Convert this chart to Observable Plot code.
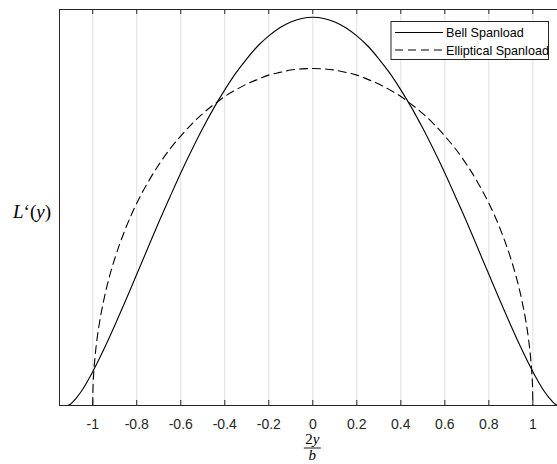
<!DOCTYPE html>
<html><head><meta charset="utf-8">
<script src="https://cdn.jsdelivr.net/npm/d3@7"></script>
<script src="https://cdn.jsdelivr.net/npm/@observablehq/plot@0.6"></script>
<style>body{margin:0;background:#fff;overflow:hidden}</style>
</head><body><div id="chart"></div>
<script>
// Bell spanload
const bellX = [-1.115,-1.1,-1.075,-1.05,-1.0,-0.95,-0.9,-0.85,-0.8,-0.75,-0.7,-0.65,-0.6,-0.55,-0.5,-0.45,-0.4,-0.35,-0.3,-0.25,-0.2,-0.15,-0.1,-0.05,0,0.05,0.1,0.15,0.2,0.25,0.3,0.35,0.4,0.45,0.5,0.55,0.6,0.65,0.7,0.75,0.8,0.85,0.9,0.95,1.0,1.05,1.075,1.1,1.115];
const bellLoad = [0,0.004,0.019,0.038,0.087,0.144,0.206,0.271,0.338,0.405,0.472,0.536,0.599,0.658,0.714,0.766,0.813,0.856,0.893,0.926,0.952,0.973,0.988,0.997,1.0,0.997,0.988,0.973,0.952,0.926,0.893,0.856,0.813,0.766,0.714,0.658,0.599,0.536,0.472,0.405,0.338,0.271,0.206,0.144,0.087,0.038,0.019,0.004,0];
// Elliptical spanload
const ellipX = [-1,-0.999,-0.995,-0.99,-0.98,-0.97,-0.95,-0.925,-0.9,-0.85,-0.8,-0.75,-0.7,-0.65,-0.6,-0.55,-0.5,-0.45,-0.4,-0.35,-0.3,-0.25,-0.2,-0.15,-0.1,-0.05,0,0.05,0.1,0.15,0.2,0.25,0.3,0.35,0.4,0.45,0.5,0.55,0.6,0.65,0.7,0.75,0.8,0.85,0.9,0.925,0.95,0.97,0.98,0.99,0.995,0.999,1];
const ellipLoad = [0,0.039,0.087,0.122,0.173,0.211,0.271,0.330,0.378,0.457,0.521,0.574,0.620,0.660,0.694,0.725,0.752,0.775,0.796,0.813,0.828,0.840,0.851,0.858,0.864,0.867,0.868,0.867,0.864,0.858,0.851,0.840,0.828,0.813,0.796,0.775,0.752,0.725,0.694,0.660,0.620,0.574,0.521,0.457,0.378,0.330,0.271,0.211,0.173,0.122,0.087,0.039,0];
const tickValues = [-1,-0.8,-0.6,-0.4,-0.2,0,0.2,0.4,0.6,0.8,1];
const tickLabels = ["-1","-0.8","-0.6","-0.4","-0.2","0","0.2","0.4","0.6","0.8","1"];
const seriesNames = ["Bell Spanload","Elliptical Spanload"];
const xDomain = [-1.151, 1.112];
const yDomain = [0, 1.02];

const bell = bellX.map((x,i)=>({x, y: bellLoad[i]}));
const ellip = ellipX.map((x,i)=>({x, y: ellipLoad[i]}));

const W = 557, H = 464, mT = 9, mB = 59, mL = 59, mR = 0;
const frameH = H - mT - mB;
const axisColor = "#262626";
const font = "'Liberation Sans', Arial, Helvetica, sans-serif";

const chart = Plot.plot({
  width: W, height: H,
  marginTop: mT, marginBottom: mB, marginLeft: mL, marginRight: mR,
  style: {fontFamily: font, background: "#fff", overflow: "visible"},
  x: {domain: xDomain},
  y: {domain: yDomain, axis: null},
  marks: [
    Plot.gridX(tickValues, {stroke: "#dfdfdf", strokeOpacity: 1, strokeWidth: 1}),
    Plot.axisX(tickValues, {tickSize: 0, tickPadding: 14, fontSize: 14, fill: axisColor, label: null,
      tickFormat: d => tickLabels[tickValues.indexOf(d)]}),
    Plot.line(bell, {x: "x", y: "y", stroke: "#000", strokeWidth: 1.1, curve: "monotone-x", clip: true}),
    Plot.line(ellip, {x: "x", y: "y", stroke: "#000", strokeWidth: 1.1, strokeDasharray: "8,5", curve: "monotone-x", clip: true}),
    Plot.tickX(tickValues, {x: d => d, insetTop: frameH - 5, stroke: axisColor}),
    Plot.tickX(tickValues, {x: d => d, insetBottom: frameH - 5, stroke: axisColor}),
    Plot.ruleY([yDomain[0]], {stroke: axisColor, strokeWidth: 1}),
    Plot.ruleY([yDomain[1]], {stroke: axisColor, strokeWidth: 1}),
    Plot.ruleX([xDomain[0]], {stroke: axisColor, strokeWidth: 1})
  ]
});
document.getElementById("chart").appendChild(chart);

const svg = d3.select(chart);
// y label  L'(y)
const serif = "'Liberation Serif', 'Times New Roman', serif";
const yl = svg.append("text").attr("x", 32).attr("y", 218).attr("text-anchor", "middle")
  .attr("font-family", serif).attr("font-size", 19).attr("fill", "#000");
yl.append("tspan").attr("font-style", "italic").text("L");
yl.append("tspan").text("‘(");
yl.append("tspan").attr("font-style", "italic").text("y");
yl.append("tspan").text(")");
// x label 2y/b
const xc = 312.3;
const num = svg.append("text").attr("x", xc).attr("y", 444).attr("text-anchor", "middle")
  .attr("font-family", serif).attr("font-size", 15).attr("fill", "#000");
num.append("tspan").text("2");
num.append("tspan").attr("font-style", "italic").text("y");
svg.append("line").attr("x1", xc - 8.5).attr("x2", xc + 8.5).attr("y1", 448).attr("y2", 448)
  .attr("stroke", "#000").attr("stroke-width", 0.9);
svg.append("text").attr("x", xc).attr("y", 460).attr("text-anchor", "middle")
  .attr("font-family", serif).attr("font-size", 15).attr("font-style", "italic").attr("fill", "#000").text("b");

// legend
const lg = svg.append("g");
lg.append("rect").attr("x", 391).attr("y", 21.5).attr("width", 157.5).attr("height", 38)
  .attr("fill", "#fff").attr("stroke", axisColor).attr("stroke-width", 1);
const rows = [32.5, 50];
const dashes = [null, "8,5"];
seriesNames.forEach((name, i) => {
  const l = lg.append("line").attr("x1", 395).attr("x2", 443).attr("y1", rows[i]).attr("y2", rows[i])
    .attr("stroke", "#000").attr("stroke-width", 1.1);
  if (dashes[i]) l.attr("stroke-dasharray", dashes[i]);
  lg.append("text").attr("x", 446).attr("y", rows[i] + 4.5).attr("text-anchor", "start")
    .attr("font-family", font).attr("font-size", 12.6).attr("fill", "#000").text(name);
});
</script>
</body></html>
